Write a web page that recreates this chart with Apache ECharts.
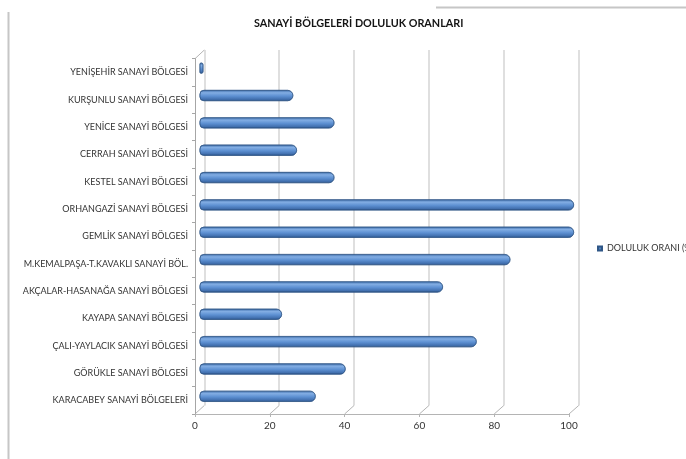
<!DOCTYPE html>
<html>
<head>
<meta charset="utf-8">
<script src="https://cdn.jsdelivr.net/npm/echarts@6/dist/echarts.min.js"></script>
<style>
  html, body { margin: 0; padding: 0; background: #fff; }
  #chart { width: 686px; height: 459px; }
</style>
</head>
<body>
<div id="chart"></div>
<script>
// Region names, top to bottom
const regions = [
  'YENİŞEHİR SANAYİ BÖLGESİ',
  'KURŞUNLU SANAYİ BÖLGESİ',
  'YENİCE SANAYİ BÖLGESİ',
  'CERRAH SANAYİ BÖLGESİ',
  'KESTEL SANAYİ BÖLGESİ',
  'ORHANGAZİ SANAYİ BÖLGESİ',
  'GEMLİK SANAYİ BÖLGESİ',
  'M.KEMALPAŞA-T.KAVAKLI SANAYİ BÖL.',
  'AKÇALAR-HASANAĞA SANAYİ BÖLGESİ',
  'KAYAPA SANAYİ BÖLGESİ',
  'ÇALI-YAYLACIK SANAYİ BÖLGESİ',
  'GÖRÜKLE SANAYİ BÖLGESİ',
  'KARACABEY SANAYİ BÖLGELERİ'
];
// Occupancy rate (%) per region
const occupancy = [1, 25, 36, 26, 36, 100, 100, 83, 65, 22, 74, 39, 31];
const seriesName = 'DOLULUK ORANI (%)';
const titleText = 'SANAYİ BÖLGELERİ DOLULUK ORANLARI';
const xTicks = [0, 20, 40, 60, 80, 100];

const FONT = 'Lato, "Liberation Sans", sans-serif';
const W = 686, H = 459;

// Three stacked planes of the pseudo-3D frame
const front = { left: 195, right: W - 569, top: 58.7, bottom: H - 414 };
const back  = { left: 204.3, right: W - 578.7, top: 50, bottom: H - 405.5 };
const mid   = { left: 199.6, right: W - 574, top: 54.5, bottom: H - 410 };

const chart = echarts.init(document.getElementById('chart'), null, { renderer: 'canvas' });

const valueAxisBase = { type: 'value', min: xTicks[0], max: xTicks[xTicks.length - 1], interval: xTicks[1] - xTicks[0] };
const gridBase = { containLabel: false, outerBoundsMode: 'none' };

chart.setOption({
  animation: false,
  backgroundColor: '#ffffff',
  title: {
    text: titleText,
    left: 249,
    top: 13,
    textStyle: { fontFamily: FONT, fontSize: 10.8, fontWeight: 'bold', color: '#141414' }
  },
  legend: {
    left: 592,
    top: 239,
    width: 300,
    icon: 'rect',
    itemWidth: 4,
    itemHeight: 4,
    itemGap: 4,
    textStyle: { fontFamily: FONT, fontSize: 9, color: '#333333', overflow: 'none', width: 200 },
    data: [{ name: seriesName, itemStyle: { color: '#4f81bd' } }]
  },
  grid: [
    Object.assign({}, gridBase, front),
    Object.assign({}, gridBase, back),
    Object.assign({}, gridBase, mid)
  ],
  xAxis: [
    Object.assign({}, valueAxisBase, {
      gridIndex: 0,
      axisLine: { show: true, lineStyle: { color: '#b4b4b4', width: 1 } },
      axisTick: { show: true, length: 3, lineStyle: { color: '#b4b4b4' } },
      axisLabel: { fontFamily: FONT, fontSize: 10, color: '#333333', margin: 7 },
      splitLine: { show: false }
    }),
    Object.assign({}, valueAxisBase, {
      gridIndex: 1,
      axisLine: { show: false },
      axisTick: { show: false },
      axisLabel: { show: false },
      splitLine: { show: true, lineStyle: { color: '#d4d4d4', width: 1.5 } }
    }),
    Object.assign({}, valueAxisBase, {
      gridIndex: 2,
      axisLine: { show: false },
      axisTick: { show: false },
      axisLabel: { show: false },
      splitLine: { show: false }
    })
  ],
  yAxis: [
    {
      type: 'category', gridIndex: 0, data: regions, inverse: true,
      axisLine: { show: true, lineStyle: { color: '#a6a6a6', width: 1 } },
      axisTick: { show: true, length: 3, lineStyle: { color: '#a6a6a6' } },
      axisLabel: { fontFamily: FONT, fontSize: 9, color: '#333333', margin: 7 },
      splitLine: { show: false }
    },
    {
      type: 'category', gridIndex: 1, data: regions, inverse: true,
      axisLine: { show: false }, axisTick: { show: false }, axisLabel: { show: false }
    },
    {
      type: 'category', gridIndex: 2, data: regions, inverse: true,
      axisLine: { show: false }, axisTick: { show: false }, axisLabel: { show: false }
    }
  ],
  series: [
    {
      name: seriesName,
      type: 'bar',
      xAxisIndex: 2,
      yAxisIndex: 2,
      data: occupancy,
      barWidth: 11,
      itemStyle: {
        borderRadius: [4, 5.5, 5.5, 4],
        borderColor: '#2f5686',
        borderWidth: 0.6,
        color: new echarts.graphic.LinearGradient(0, 0, 0, 1, [
          { offset: 0, color: '#3d6ca9' },
          { offset: 0.25, color: '#82ade3' },
          { offset: 0.55, color: '#5d90d2' },
          { offset: 0.85, color: '#416fae' },
          { offset: 1, color: '#2a4f80' }
        ])
      }
    }
  ]
});

// Depth connectors between the front axis and the back wall, placed through the axes
const gfx = [];
const lineStyle = { stroke: '#b4b4b4', lineWidth: 1 };
const frontBottom = H - front.bottom, backBottom = H - back.bottom;
xTicks.forEach(v => {
  const fx = chart.convertToPixel({ xAxisIndex: 0 }, v);
  const bx = chart.convertToPixel({ xAxisIndex: 1 }, v);
  gfx.push({ type: 'line', silent: true, shape: { x1: fx, y1: frontBottom, x2: bx, y2: backBottom }, style: lineStyle });
});
const fx0 = chart.convertToPixel({ xAxisIndex: 0 }, xTicks[0]);
const bx0 = chart.convertToPixel({ xAxisIndex: 1 }, xTicks[0]);
gfx.push({ type: 'line', silent: true, shape: { x1: fx0, y1: front.top, x2: bx0, y2: back.top }, style: lineStyle });
// Chart area frame edges
gfx.push({ type: 'line', silent: true, shape: { x1: 8.5, y1: 12, x2: 8.5, y2: H }, style: { stroke: '#c6c6c6', lineWidth: 2 } });
gfx.push({ type: 'line', silent: true, shape: { x1: 436, y1: 7.5, x2: W, y2: 7.5 }, style: { stroke: '#c6c6c6', lineWidth: 2 } });
chart.setOption({ graphic: gfx });
</script>
</body>
</html>
